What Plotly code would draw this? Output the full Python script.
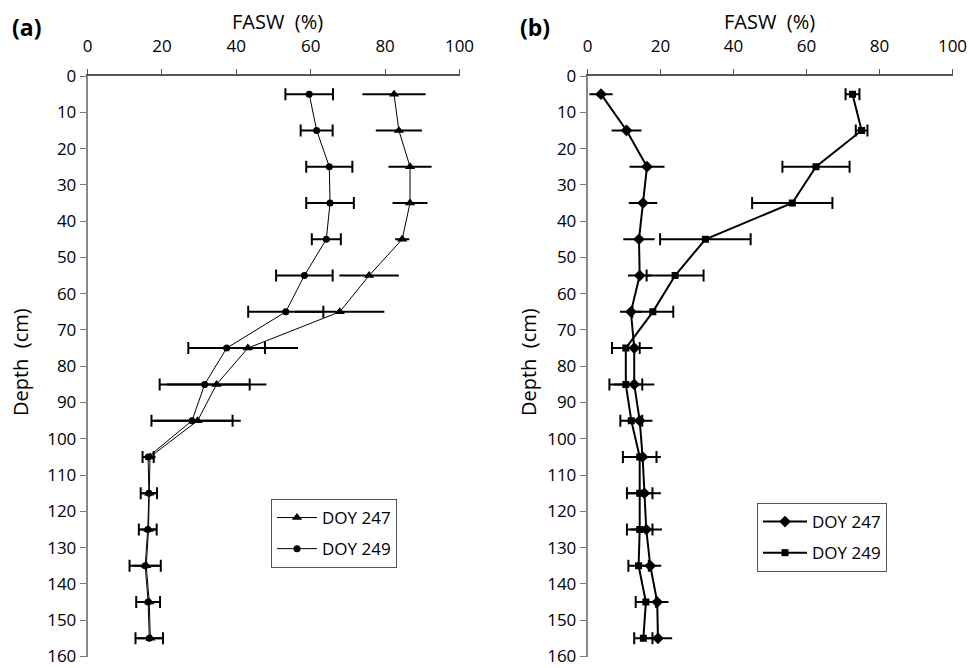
import plotly.graph_objects as go

depth = [5, 15, 25, 35, 45, 55, 65, 75, 85, 95, 105, 115, 125, 135, 145, 155]

# Panel (a)
a247 = [82.4, 83.7, 86.7, 86.7, 84.6, 75.7, 67.8, 43.1, 34.7, 29.6, 16.8, 16.6, 16.4, 15.8, 16.6, 16.9]
a247_err = [8.5, 6.2, 5.8, 4.7, 1.9, 8.0, 12.0, 13.5, 13.4, 11.6, 1.5, 2.0, 2.2, 3.5, 3.0, 3.5]
a249 = [59.6, 61.6, 65.0, 65.2, 64.2, 58.3, 53.3, 37.4, 31.5, 28.1, 16.3, 16.5, 16.2, 15.5, 16.3, 16.6]
a249_err = [6.4, 4.3, 6.2, 6.4, 3.9, 7.6, 10.1, 10.3, 12.1, 10.9, 1.5, 2.2, 2.4, 4.2, 3.2, 3.7]

# Panel (b)
b247 = [3.7, 10.7, 16.3, 15.2, 14.1, 14.3, 11.9, 12.8, 12.8, 14.3, 15.1, 15.6, 16.1, 17.2, 19.1, 19.3]
b247_err = [3.2, 4.1, 4.8, 3.9, 4.3, 3.2, 3.0, 5.0, 5.5, 3.5, 5.0, 4.5, 4.3, 3.0, 3.1, 3.9]
b249 = [72.6, 75.1, 62.6, 56.1, 32.3, 24.0, 17.9, 10.5, 10.5, 12.0, 14.3, 14.3, 14.3, 14.0, 16.0, 15.3]
b249_err = [1.9, 1.6, 9.2, 11.0, 12.4, 7.8, 5.6, 3.8, 4.5, 3.0, 4.6, 3.5, 3.5, 2.8, 2.8, 2.5]

x_ticks = [0, 20, 40, 60, 80, 100]
y_ticks = list(range(0, 161, 10))

FONT = "Open Sans"
W, H = 969, 668

def px(v):
    return v / W

def py(v):
    return 1 - v / H

fig = go.Figure()

# (a)
fig.add_trace(go.Scatter(
    x=a247, y=depth, name="DOY 247", mode="lines+markers",
    xaxis="x", yaxis="y", legend="legend", legendgroup="a1",
    line=dict(color="black", width=1),
    marker=dict(symbol="triangle-up", size=9, color="black"),
    error_x=dict(type="data", array=a247_err, color="black", thickness=2, width=0),
))
fig.add_trace(go.Scatter(
    x=a249, y=depth, name="DOY 249", mode="lines+markers",
    xaxis="x", yaxis="y", legend="legend", legendgroup="a2",
    line=dict(color="black", width=1),
    marker=dict(symbol="circle", size=7, color="black"),
    error_x=dict(type="data", array=a249_err, color="black", thickness=2, width=6),
))

# (b)
fig.add_trace(go.Scatter(
    x=b247, y=depth, name="DOY 247", mode="lines+markers",
    xaxis="x2", yaxis="y2", legend="legend2", legendgroup="b1",
    line=dict(color="black", width=2),
    marker=dict(symbol="diamond", size=9, color="black"),
    error_x=dict(type="data", array=b247_err, color="black", thickness=2, width=0),
))
fig.add_trace(go.Scatter(
    x=b249, y=depth, name="DOY 249", mode="lines+markers",
    xaxis="x2", yaxis="y2", legend="legend2", legendgroup="b2",
    line=dict(color="black", width=2),
    marker=dict(symbol="square", size=7, color="black"),
    error_x=dict(type="data", array=b249_err, color="black", thickness=2, width=6),
))

tickfont = dict(family=FONT, size=17, color="black")

def xaxis(domain, anchor):
    return dict(
        domain=domain, anchor=anchor, side="top", range=[0, 100],
        tickvals=x_ticks, ticks="outside", ticklen=5, tickcolor="#555",
        showline=True, linecolor="#555", linewidth=1.5, showgrid=False,
        zeroline=False, tickfont=tickfont, ticklabelstandoff=10,
        automargin=False, fixedrange=True,
    )

def yaxis(domain, anchor):
    return dict(
        domain=domain, anchor=anchor, range=[160, 0],
        tickvals=y_ticks, ticks="outside", ticklen=6, tickcolor="#777",
        showline=True, linecolor="#888", linewidth=1.5, showgrid=False,
        zeroline=False, tickfont=tickfont, automargin=False, fixedrange=True,
    )

ydom = [py(656.5), py(76)]
fig.update_layout(
    width=W, height=H,
    margin=dict(l=0, r=0, t=0, b=0, autoexpand=False),
    paper_bgcolor="white", plot_bgcolor="white",
    font=dict(family=FONT, color="black"),
    xaxis=xaxis([px(87.5), px(459.5)], "y"),
    yaxis=yaxis(ydom, "x"),
    xaxis2=xaxis([px(587.5), px(952.5)], "y2"),
    yaxis2=yaxis(ydom, "x2"),
    legend=dict(
        x=px(271), y=py(499), xanchor="left", yanchor="top",
        bordercolor="#555", borderwidth=1, bgcolor="white",
        font=dict(family=FONT, size=17, color="black"),
        tracegroupgap=6, traceorder="grouped", itemwidth=40,
    ),
    legend2=dict(
        x=px(757), y=py(503), xanchor="left", yanchor="top",
        bordercolor="#555", borderwidth=1, bgcolor="white",
        font=dict(family=FONT, size=17, color="black"),
        tracegroupgap=6, traceorder="grouped", itemwidth=44,
    ),
    showlegend=True,
)

annots = [
    dict(text="<b>(a)</b>", x=px(26), y=py(27)),
    dict(text="<b>(b)</b>", x=px(535), y=py(27)),
    dict(text="FASW  (%)", x=px(277), y=py(21)),
    dict(text="FASW  (%)", x=px(769), y=py(21)),
]
for a in annots:
    size = 23 if a["text"].startswith("<b>") else 20
    fig.add_annotation(xref="paper", yref="paper", showarrow=False,
                       xanchor="center", yanchor="middle",
                       font=dict(family=FONT, size=size, color="black"), **a)
for xc in [20, 528]:
    fig.add_annotation(xref="paper", yref="paper", showarrow=False,
                       x=px(xc), y=py(362), text="Depth  (cm)", textangle=-90,
                       xanchor="center", yanchor="middle",
                       font=dict(family=FONT, size=20, color="black"))

fig.write_html("out.html")
